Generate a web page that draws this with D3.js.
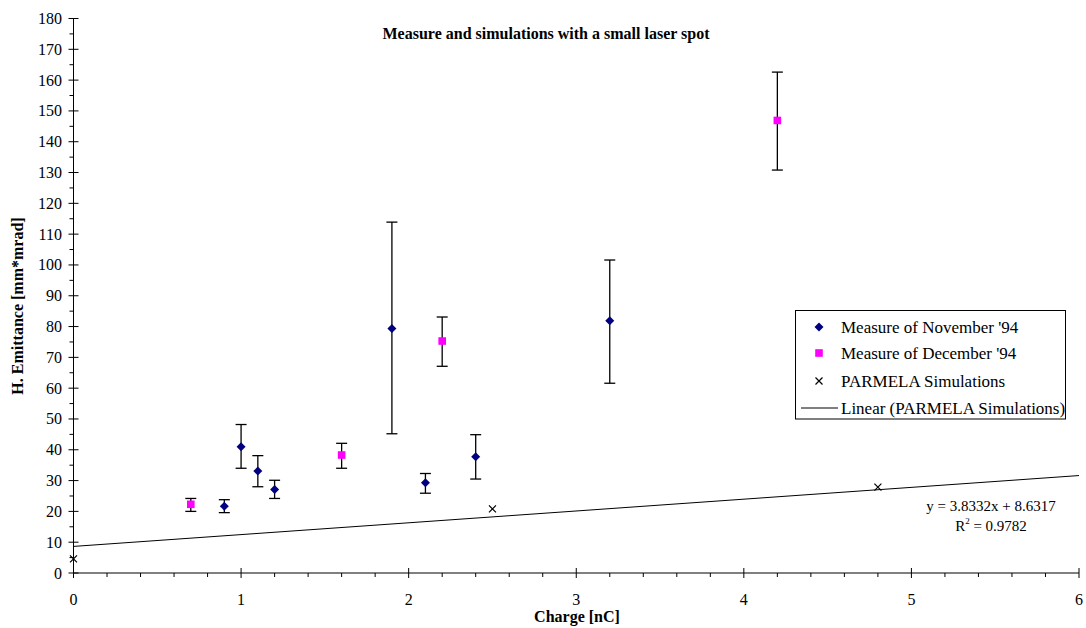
<!DOCTYPE html>
<html><head><meta charset="utf-8">
<script src="https://cdn.jsdelivr.net/npm/d3@7"></script>
<style>body{margin:0;background:#fff}svg{display:block}text{font-family:"Liberation Serif","Times New Roman",serif}</style>
</head><body>
<svg id="c" width="1086" height="628"></svg>
<script>
// Data
const novX   = [0.9, 1.0, 1.1, 1.2, 1.9, 2.1, 2.4, 3.2];
const novY   = [21.7, 41.0, 33.1, 27.1, 79.4, 29.3, 37.7, 81.9];
const novHi  = [23.8, 48.2, 38.1, 30.1, 113.9, 32.3, 44.9, 101.6];
const novLo  = [19.6, 34.0, 28.0, 24.2, 45.2, 25.9, 30.5, 61.6];
const decX   = [0.7, 1.6, 2.2, 4.2];
const decY   = [22.3, 38.3, 75.3, 146.9];
const decHi  = [24.2, 42.1, 83.1, 162.6];
const decLo  = [20.0, 34.0, 67.1, 130.8];
const simX   = [0, 2.5, 4.8];
const simY   = [4.6, 20.8, 27.9];
const trendCoef = [3.8332, 8.6317]; // slope, intercept
const xTicks = [0, 1, 2, 3, 4, 5, 6];
const yTicks = d3.range(0, 181, 10);
const legendLabels = ["Measure of November '94", "Measure of December '94", "PARMELA Simulations", "Linear (PARMELA Simulations)"];

const svg = d3.select("#c");
const x = d3.scaleLinear().domain([0, 6]).range([73.5, 1079]);
const y = d3.scaleLinear().domain([0, 180]).range([573, 18.5]);

// Axes
const yAxis = svg.append("g");
yAxis.append("line").attr("x1", x(0)).attr("x2", x(0)).attr("y1", y(0)).attr("y2", y(180)).attr("stroke", "#000");
yTicks.forEach(t => {
  yAxis.append("line").attr("x1", x(0) - 5).attr("x2", x(0) + 5).attr("y1", y(t)).attr("y2", y(t)).attr("stroke", "#000");
  yAxis.append("text").attr("x", 62).attr("y", y(t) + 5.5).attr("text-anchor", "end").attr("font-size", 16).text(t);
});
d3.range(5, 180, 10).forEach(t => {
  yAxis.append("line").attr("x1", x(0) - 4).attr("x2", x(0)).attr("y1", y(t)).attr("y2", y(t)).attr("stroke", "#000");
});
const xAxis = svg.append("g");
xAxis.append("line").attr("x1", x(0)).attr("x2", x(6)).attr("y1", y(0)).attr("y2", y(0)).attr("stroke", "#000");
xTicks.forEach(t => {
  xAxis.append("line").attr("x1", x(t)).attr("x2", x(t)).attr("y1", y(0) - 5).attr("y2", y(0) + 5).attr("stroke", "#000");
  xAxis.append("text").attr("x", x(t)).attr("y", 605).attr("text-anchor", "middle").attr("font-size", 16).text(t);
});
d3.range(0, 30).forEach(i => {
  if (i % 5 === 0) return;
  const t = i * 0.2;
  xAxis.append("line").attr("x1", x(t)).attr("x2", x(t)).attr("y1", y(0)).attr("y2", y(0) + 4).attr("stroke", "#000");
});

// Titles
svg.append("text").attr("x", 546).attr("y", 39).attr("text-anchor", "middle").attr("font-size", 16).attr("font-weight", "bold").text("Measure and simulations with a small laser spot");
svg.append("text").attr("x", 577).attr("y", 622).attr("text-anchor", "middle").attr("font-size", 16).attr("font-weight", "bold").text("Charge [nC]");
svg.append("text").attr("transform", "translate(23,306) rotate(-90)").attr("text-anchor", "middle").attr("font-size", 16).attr("font-weight", "bold").text("H. Emittance [mm*mrad]");

// Trend line
svg.append("line").attr("x1", x(0)).attr("y1", y(trendCoef[1])).attr("x2", x(6)).attr("y2", y(trendCoef[0] * 6 + trendCoef[1])).attr("stroke", "#000").attr("stroke-width", 1);

// Error bars
function errorBars(xs, his, los) {
  const g = svg.append("g").attr("stroke", "#000").attr("stroke-width", 1.3);
  xs.forEach((xv, i) => {
    g.append("line").attr("x1", x(xv)).attr("x2", x(xv)).attr("y1", y(his[i])).attr("y2", y(los[i]));
    g.append("line").attr("x1", x(xv) - 5.5).attr("x2", x(xv) + 5.5).attr("y1", y(his[i])).attr("y2", y(his[i]));
    g.append("line").attr("x1", x(xv) - 5.5).attr("x2", x(xv) + 5.5).attr("y1", y(los[i])).attr("y2", y(los[i]));
  });
}
errorBars(novX, novHi, novLo);
errorBars(decX, decHi, decLo);

const diamond = "M0,-4.5L4.5,0L0,4.5L-4.5,0Z";
const square = "M-3.8,-3.8H3.8V3.8H-3.8Z";
const cross = "M-3.5,-3.5L3.5,3.5M3.5,-3.5L-3.5,3.5";

svg.append("g").selectAll("path").data(novX).join("path")
  .attr("d", diamond).attr("fill", "#000080")
  .attr("transform", (d, i) => `translate(${x(d)},${y(novY[i])})`);
svg.append("g").selectAll("path").data(decX).join("path")
  .attr("d", square).attr("fill", "#FF00FF")
  .attr("transform", (d, i) => `translate(${x(d)},${y(decY[i])})`);
svg.append("g").selectAll("path").data(simX).join("path")
  .attr("d", cross).attr("stroke", "#000").attr("stroke-width", 1.2).attr("fill", "none")
  .attr("transform", (d, i) => `translate(${x(d)},${y(simY[i])})`);

// Equation
svg.append("text").attr("x", 991).attr("y", 511).attr("text-anchor", "middle").attr("font-size", 15).text("y = 3.8332x + 8.6317");
const r2 = svg.append("text").attr("x", 991).attr("y", 531).attr("text-anchor", "middle").attr("font-size", 15);
r2.append("tspan").text("R");
r2.append("tspan").attr("font-size", 9).attr("dy", -7).text("2");
r2.append("tspan").attr("dy", 7).text(" = 0.9782");

// Legend
const lg = svg.append("g");
lg.append("rect").attr("x", 795.5).attr("y", 310.5).attr("width", 270).attr("height", 108.5).attr("fill", "#fff").attr("stroke", "#000");
const rowsY = [327, 353, 381, 408];
lg.append("path").attr("d", diamond).attr("fill", "#000080").attr("transform", `translate(819,${rowsY[0]})`);
lg.append("path").attr("d", square).attr("fill", "#FF00FF").attr("transform", `translate(819,${rowsY[1]})`);
lg.append("path").attr("d", cross).attr("stroke", "#000").attr("stroke-width", 1.2).attr("transform", `translate(819,${rowsY[2]})`);
lg.append("line").attr("x1", 801).attr("x2", 838).attr("y1", rowsY[3]).attr("y2", rowsY[3]).attr("stroke", "#000");
legendLabels.forEach((t, i) => {
  lg.append("text").attr("x", 841).attr("y", rowsY[i] + 6).attr("font-size", 17).text(t);
});
</script>
</body></html>
